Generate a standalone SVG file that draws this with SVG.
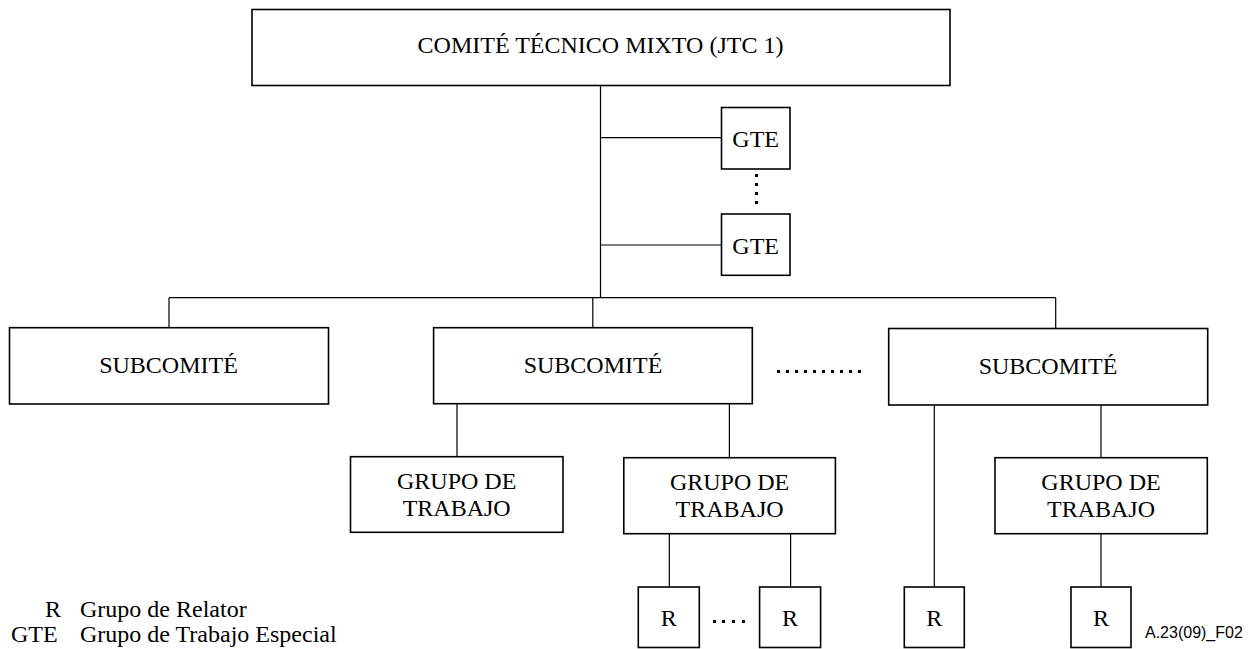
<svg xmlns="http://www.w3.org/2000/svg" width="1252" height="649" viewBox="0 0 1252 649">
<style>
.box{fill:#fff;stroke:#000;stroke-width:1.6}
.ln{stroke:#000;stroke-width:1.2;fill:none}
.dot{stroke:#000;stroke-width:3;fill:none;stroke-dasharray:3 6;shape-rendering:crispEdges}
.t{font-family:"Liberation Serif","Times New Roman",serif;font-size:24px;fill:#000;text-anchor:middle}
.lg{font-family:"Liberation Serif","Times New Roman",serif;font-size:24px;fill:#000}
.fig{font-family:"Liberation Sans",Arial,sans-serif;font-size:16px;fill:#000}
</style>
<rect width="1252" height="649" fill="#fff"/>
<g id="connectors">
<path class="ln" d="M600.5 85.7V297.7M600.5 137.7H721.4M600.5 245H721.4M169 297.7H1055.7M169 297.7V327.7M592.8 297.7V327.7M1055.7 297.7V328.5M457 403.7V456.7M729.4 403.7V457.7M669.3 533.7V587M790.6 533.7V587M934.3 405V587M1101 405V457.7M1101 533.7V587"/>
<path class="dot" d="M756.5 174V205"/>
<path class="dot" d="M777 371.5H862"/>
<path class="dot" d="M712.5 621.5H746" style="stroke-dasharray:3 6.8"/>
</g>
<g id="jtc1"><rect class="box" x="252" y="9.5" width="698" height="76"/><text class="t" x="600.5" y="53">COMITÉ TÉCNICO MIXTO (JTC 1)</text></g>
<g id="gte1"><rect class="box" x="721.5" y="107.5" width="68.5" height="61.5"/><text class="t" x="755.7" y="146.5">GTE</text></g>
<g id="gte2"><rect class="box" x="721.5" y="214" width="68.5" height="61.3"/><text class="t" x="755.7" y="254">GTE</text></g>
<g id="sc1"><rect class="box" x="9.5" y="327.7" width="319" height="76.3"/><text class="t" x="168.5" y="372.7">SUBCOMITÉ</text></g>
<g id="sc2"><rect class="box" x="433.6" y="327.7" width="318.7" height="76"/><text class="t" x="593" y="372.7">SUBCOMITÉ</text></g>
<g id="sc3"><rect class="box" x="888.7" y="328.5" width="319" height="76.5"/><text class="t" x="1048" y="374">SUBCOMITÉ</text></g>
<g id="wg1"><rect class="box" x="350.5" y="456.7" width="212.5" height="75.6"/><text class="t" x="456.7" y="489">GRUPO DE</text><text class="t" x="456.7" y="515.7">TRABAJO</text></g>
<g id="wg2"><rect class="box" x="623.8" y="457.7" width="211.6" height="76"/><text class="t" x="729.6" y="490">GRUPO DE</text><text class="t" x="729.6" y="517">TRABAJO</text></g>
<g id="wg3"><rect class="box" x="995" y="457.7" width="212.3" height="76"/><text class="t" x="1101" y="489.5">GRUPO DE</text><text class="t" x="1101" y="517">TRABAJO</text></g>
<g id="r1"><rect class="box" x="638.3" y="587" width="61" height="60.5"/><text class="t" x="668.8" y="626">R</text></g>
<g id="r2"><rect class="box" x="759.6" y="587" width="61" height="60.5"/><text class="t" x="790.1" y="626">R</text></g>
<g id="r3"><rect class="box" x="904.3" y="587" width="60" height="60.5"/><text class="t" x="934.3" y="626">R</text></g>
<g id="r4"><rect class="box" x="1071" y="587" width="60" height="60.5"/><text class="t" x="1101" y="626">R</text></g>
<g id="legend">
<text class="lg" x="45" y="616.7">R</text><text class="lg" x="80" y="616.7">Grupo de Relator</text>
<text class="lg" x="11" y="641.7">GTE</text><text class="lg" x="80" y="641.7">Grupo de Trabajo Especial</text>
</g>
<text class="fig" x="1145" y="638.3">A.23(09)_F02</text>
</svg>
